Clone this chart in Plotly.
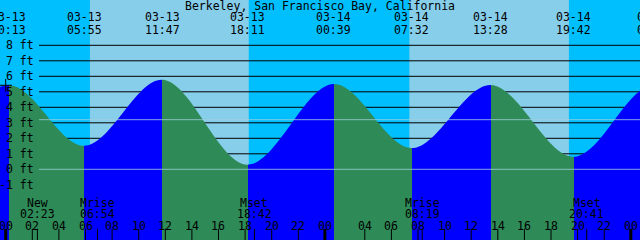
import plotly.graph_objects as go

TITLE = "Berkeley, San Francisco Bay, California"

# Tide extremes (local clock time) and heights in ft (first and last two lie outside the view)
tide_dates = ["03-12", "03-13", "03-13", "03-13", "03-13", "03-14", "03-14", "03-14", "03-14", "03-15", "03-15"]
tide_times = ["17:40", "00:13", "05:55", "11:47", "18:11", "00:39", "07:32", "13:28", "19:42", "01:45", "08:10"]
tide_heights = [0.70, 5.43, 1.52, 5.78, 0.30, 5.50, 1.37, 5.44, 0.80, 5.45, 1.30]

# Sun rise/set (local clock time)
sun_dates = ["03-13", "03-13", "03-14", "03-14"]
sun_times = ["06:20", "18:17", "07:21", "19:21"]

# Moon events
moon_labels = ["New", "Mrise", "Mset", "Mrise", "Mset"]
moon_dates = ["03-13", "03-13", "03-13", "03-14", "03-14"]
moon_times = ["02:23", "06:54", "18:42", "08:19", "20:41"]

# Hour ticks (local clock; 02:00 on 03-14 does not exist - DST)
hour_dates = (["03-13"] * 12) + (["03-14"] * 11) + ["03-15"]
hour_labels = ["00", "02", "04", "06", "08", "10", "12", "14", "16", "18", "20", "22",
               "00", "04", "06", "08", "10", "12", "14", "16", "18", "20", "22",
               "00"]

level_ticks = [-1, 0, 1, 2, 3, 4, 5, 6, 7, 8]
msl_level = 3.2

now_date, now_time, now_height = "03-13", "00:00", 5.42

DAY_OFFSET = {"03-12": -24, "03-13": 0, "03-14": 24, "03-15": 48}


def to_h(date, hhmm):
    hh, mm = (int(v) for v in hhmm.split(":"))
    h = DAY_OFFSET[date] + hh + mm / 60.0
    if (date == "03-14" and hh >= 3) or date == "03-15":
        h -= 1.0  # clock sprang forward one hour
    return h


X0, X1 = -5.7 / 13.3, (640 - 5.7) / 13.3
Y0, Y1 = -(240 - 169.3) / 15.5, 8 + 45.3 / 15.5

NIGHT = "#00BFFF"
DAY = "#87CEEB"
RISE = "#0000FF"
FALL = "#2E8B57"
FONT = dict(family="DejaVu Sans Mono", size=11.5, color="black")


def xp(h):
    return (h - X0) / (X1 - X0)


def yp(py):
    return 1 - py / 240.0


tide_h = [to_h(d, t) for d, t in zip(tide_dates, tide_times)]
sun_h = [to_h(d, t) for d, t in zip(sun_dates, sun_times)]
moon_h = [to_h(d, t) for d, t in zip(moon_dates, moon_times)]
hour_h = [to_h(d, t + ":00") for d, t in zip(hour_dates, hour_labels)]

fig = go.Figure()

# sky bands: night / day
shapes = []
edges = [X0 - 1] + sun_h + [X1 + 1]
for i in range(len(edges) - 1):
    shapes.append(dict(type="rect", xref="x", yref="paper", x0=edges[i], x1=edges[i + 1],
                       y0=0, y1=1, fillcolor=NIGHT if i % 2 == 0 else DAY,
                       line=dict(width=0), layer="below"))
# black level lines (under the water)
for lv in level_ticks:
    shapes.append(dict(type="line", xref="paper", yref="y", x0=39 / 640, x1=1, y0=lv, y1=lv,
                       line=dict(color="black", width=1), layer="below"))
# light reference lines (over the water)
for lv in [msl_level, 0]:
    shapes.append(dict(type="line", xref="paper", yref="y", x0=39 / 640, x1=1, y0=lv, y1=lv,
                       line=dict(color="rgba(160,205,220,0.8)", width=1), layer="above"))

# water: rising = blue, falling = green
start, stop = tide_h[0], tide_h[-1]
cs = []
for i in range(len(tide_h) - 1):
    col = RISE if tide_heights[i + 1] > tide_heights[i] else FALL
    p0 = (tide_h[i] - start) / (stop - start)
    p1 = (tide_h[i + 1] - start) / (stop - start)
    cs.append([p0, col])
    cs.append([p1, col])
cs[0][0] = 0.0
cs[-1][0] = 1.0

fig.add_trace(go.Scatter(x=[start, stop], y=[Y0 - 5, Y0 - 5], mode="lines",
                         line=dict(width=0), hoverinfo="skip"))
fig.add_trace(go.Scatter(x=tide_h, y=tide_heights, mode="lines",
                         line=dict(width=0, shape="spline", smoothing=1),
                         fill="tonexty", fillcolor=FALL,
                         fillgradient=dict(type="horizontal", colorscale=cs, start=start, stop=stop),
                         hoverinfo="skip"))

# current-time cross
fig.add_trace(go.Scatter(x=[to_h(now_date, now_time)], y=[now_height], mode="markers",
                         marker=dict(symbol="cross-thin", size=9,
                                     line=dict(color="black", width=1)),
                         hoverinfo="skip"))

# bottom ticks
thin_x = [h for h, lab in zip(hour_h, hour_labels) if lab != "00"] + moon_h
thick_x = [h for h, lab in zip(hour_h, hour_labels) if lab == "00"]
fig.add_trace(go.Scatter(x=thin_x, y=[Y0] * len(thin_x), mode="markers", cliponaxis=True,
                         marker=dict(symbol="line-ns", size=16,
                                     line=dict(color="black", width=1)),
                         hoverinfo="skip"))
fig.add_trace(go.Scatter(x=thick_x, y=[Y0] * len(thick_x), mode="markers", cliponaxis=True,
                         marker=dict(symbol="line-ns", size=16,
                                     line=dict(color="black", width=3)),
                         hoverinfo="skip"))

ann = []
ann.append(dict(text=TITLE, xref="paper", yref="paper", x=0.5, y=yp(6), showarrow=False,
                xanchor="center", yanchor="middle", font=FONT))
for d, t, h in zip(tide_dates, tide_times, tide_h):
    ann.append(dict(text=d, xref="paper", yref="paper", x=xp(h), y=yp(17.5), showarrow=False,
                    xanchor="center", yanchor="middle", font=FONT))
    ann.append(dict(text=t, xref="paper", yref="paper", x=xp(h), y=yp(29.5), showarrow=False,
                    xanchor="center", yanchor="middle", font=FONT))
for lv in level_ticks:
    ann.append(dict(text=f"{lv} ft", xref="paper", yref="y", x=35.5 / 640, y=lv, showarrow=False,
                    xanchor="right", yanchor="middle", font=FONT))
for lab, t, h in zip(moon_labels, moon_times, moon_h):
    ann.append(dict(text=lab, xref="paper", yref="paper", x=xp(h), y=yp(202.5), showarrow=False,
                    xanchor="center", yanchor="middle", font=FONT))
    ann.append(dict(text=t, xref="paper", yref="paper", x=xp(h), y=yp(214), showarrow=False,
                    xanchor="center", yanchor="middle", font=FONT))
for lab, h in zip(hour_labels, hour_h):
    ann.append(dict(text=lab, xref="paper", yref="paper", x=xp(h), y=yp(225.5), showarrow=False,
                    xanchor="center", yanchor="middle", font=FONT))

fig.update_layout(
    width=640, height=240,
    margin=dict(l=0, r=0, t=0, b=0),
    paper_bgcolor=NIGHT, plot_bgcolor=NIGHT,
    showlegend=False,
    shapes=shapes,
    annotations=ann,
    xaxis=dict(range=[X0, X1], visible=False, fixedrange=True),
    yaxis=dict(range=[Y0, Y1], visible=False, fixedrange=True),
)

fig.write_html("out.html", config={"displayModeBar": False})
